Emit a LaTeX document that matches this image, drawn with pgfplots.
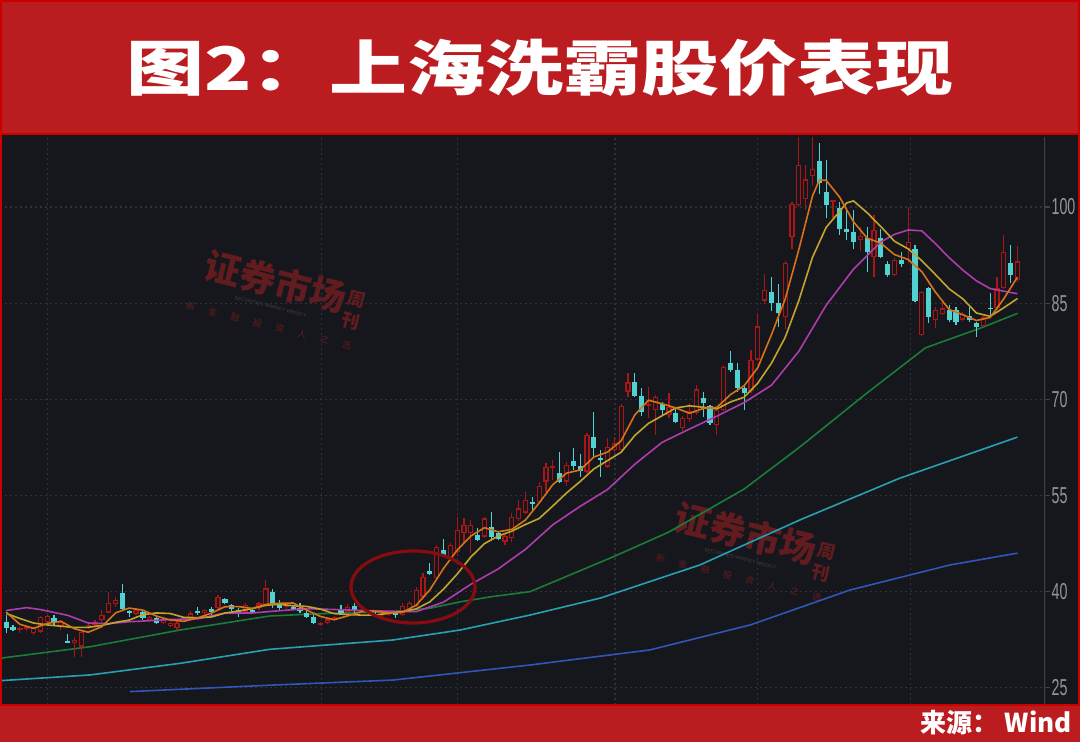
\documentclass[border=0pt]{standalone}
\usepackage{pgfplots}
\usepackage{pgfplotstable}
\usepackage{graphicx}
\usepackage{fontspec}
\pgfplotsset{compat=1.18}
\setmainfont{Liberation Sans}
\newfontfamily\cjk{Noto Sans CJK SC}
\pgfdeclarelayer{bg}
\pgfsetlayers{bg,main}

\definecolor{bgc}{RGB}{21,23,28}
\definecolor{upc}{RGB}{170,22,22}
\definecolor{dnc}{RGB}{80,210,210}
\definecolor{maA}{RGB}{215,115,25}
\definecolor{maB}{RGB}{195,165,45}
\definecolor{maC}{RGB}{175,60,175}
\definecolor{maD}{RGB}{25,125,55}
\definecolor{maE}{RGB}{40,160,180}
\definecolor{maF}{RGB}{50,85,185}
\definecolor{gridc}{RGB}{46,49,56}
\definecolor{axc}{RGB}{62,64,70}
\definecolor{tickc}{RGB}{150,150,150}
\definecolor{banner}{RGB}{187,28,32}
\definecolor{bord}{RGB}{205,0,0}
\definecolor{wm}{RGB}{98,28,32}
\definecolor{wmg}{RGB}{70,60,62}
\definecolor{ellc}{RGB}{135,12,16}

\newcommand{\wmark}{%
  \makebox[0pt][l]{\hspace*{4.5pt}{\cjk\bfseries\fontsize{18}{18}\selectfont\color{wm}证券市场}\hspace{1pt}\raisebox{-6.4pt}{\cjk\bfseries\fontsize{9}{9.5}\selectfont\color{wm}\shortstack{周\\刊}}}%
  \makebox[0pt][l]{\raisebox{-6.6pt}{\hspace*{22.5pt}\fontsize{2.5}{3}\selectfont\color{wmg}SECURITIES MARKET WEEKLY}}%
  \raisebox{-16.9pt}{\cjk\fontsize{4.5}{5}\selectfont\color{wm}新\hspace{7pt}金\hspace{7pt}融\hspace{7pt}投\hspace{7pt}资\hspace{7pt}人\hspace{7pt}之\hspace{7pt}选}}

% up candles (close >= open)
\pgfplotstableread{
i o h l c
2 34.0 34.5 33.6 34.3
3 34.1 34.6 33.9 34.4
4 33.5 34.5 33.3 34.3
5 33.75 36.2 33.6 36.0
6 35.3 36.4 35.1 36.2
8 34.53 35.6 34.0 35.3
10 31.93 32.97 29.85 32.45
11 31.41 34.01 29.85 33.75
12 34.27 34.9 34.1 34.8
13 34.79 35.5 34.5 35.3
14 35.57 37.13 35.05 36.35
15 36.71 39.89 36.61 38.27
16 38.07 39.21 37.65 38.69
19 36.5 37.4 36.3 37.2
21 35.57 36.2 35.4 36.09
23 35.05 35.7 34.9 35.57
24 34.64 35.3 34.5 35.15
25 34.27 35.4 34.0 35.15
26 35.3 35.95 35.2 35.83
27 35.67 36.9 35.4 36.61
29 36.61 37.3 36.4 37.13
31 37.39 39.47 37.13 39.21
35 36.87 38.27 36.61 37.91
37 37.39 38.4 37.2 38.17
38 37.91 41.81 37.65 40.51
41 37.6 38.2 37.3 37.8
46 34.84 35.3 34.7 35.15
47 35.15 35.9 35.0 35.67
48 35.7 36.2 35.5 36.0
50 36.87 38.0 36.7 37.65
52 36.9 37.4 36.6 37.1
55 36.3 36.8 36.1 36.6
56 36.4 36.9 36.2 36.7
58 36.35 38.17 36.2 37.75
59 36.87 38.5 36.7 38.27
60 37.75 40.66 37.6 40.25
61 39.21 42.95 38.8 42.33
63 42.07 47.27 41.9 47.01
65 45.19 47.53 44.7 47.27
66 46.2 51.69 45.5 49.61
67 49.09 51.43 47.53 50.39
68 49.09 51.17 45.97 50.39
70 48.57 51.7 48.4 51.43
73 47.79 48.9 47.27 48.67
74 48.31 52.2 47.79 51.69
75 51.27 54.29 51.0 52.99
76 52.31 55.59 52.1 54.29
78 53.9 57.15 53.6 56.47
79 57.15 60.01 55.59 59.49
80 59.3 60.6 57.4 59.5
82 57.15 60.2 56.4 59.8
85 58.71 64.8 58.5 64.43
88 59.49 63.91 59.23 62.61
89 62.09 64.17 61.8 63.13
90 62.09 69.2 61.9 68.95
91 71.19 74.05 70.3 72.65
94 68.95 71.9 67.1 69.1
95 68.33 70.6 64.4 70.41
97 67.55 71.0 67.1 68.85
99 65.55 67.4 65.0 67.15
100 66.9 69.37 66.5 68.2
101 67.81 72.3 67.6 71.55
104 65.99 68.6 64.5 68.3
105 68.33 75.3 68.1 75.09
109 71.3 77.69 71.0 76.1
110 76.2 83.45 76.0 81.38
111 85.4 89.6 84.9 87.05
114 82.78 91.6 81.0 91.31
115 95.27 100.8 93.4 100.5
116 100.31 110.9 100.0 106.55
117 101.19 106.55 99.6 104.31
118 104.8 110.9 103.3 105.9
121 100.8 101.1 98.23 101.0
125 94.85 96.93 93.1 95.47
127 92.15 98.75 89.13 96.45
130 89.39 92.0 89.2 91.73
132 93.4 100.0 91.2 94.59
134 80.03 86.9 79.8 86.74
136 82.37 84.45 81.1 83.93
137 83.31 85.5 83.1 84.19
140 82.42 83.6 82.2 83.36
143 81.45 83.0 81.3 82.8
145 84.19 89.0 84.0 87.31
146 87.4 95.63 87.2 93.03
148 88.61 93.9 88.3 91.5
}\upt

% down candles (close < open)
\pgfplotstableread{
i o h l c
0 35.3 36.4 33.5 34.3
1 34.5 34.8 33.8 34.0
7 35.83 36.35 34.8 35.05
9 32.3 33.39 31.93 32.0
17 39.73 41.13 37.13 37.23
18 36.97 37.13 36.1 36.61
20 36.87 37.1 35.6 35.83
22 35.83 36.35 34.95 35.15
28 37.0 37.6 36.35 36.7
30 37.23 37.65 36.35 36.87
32 38.79 39.0 38.0 38.27
33 37.91 38.1 37.0 37.23
34 37.13 37.39 36.09 36.71
36 37.13 37.3 36.5 36.71
39 40.0 40.4 37.4 38.1
40 38.0 38.7 37.1 37.4
42 37.6 37.8 37.1 37.3
43 37.39 38.2 36.6 36.9
44 36.6 36.9 35.9 36.1
45 36.09 36.4 35.0 35.15
49 37.13 37.9 36.35 36.61
51 37.75 38.17 36.6 36.97
53 37.0 37.2 36.2 36.7
54 36.5 36.8 36.1 36.3
57 36.6 36.8 35.9 36.4
62 43.21 44.4 42.59 42.74
64 46.49 48.15 45.45 45.71
69 48.83 49.9 47.9 48.05
71 50.13 52.47 48.05 48.57
72 49.2 49.5 48.0 48.2
77 53.9 54.8 52.7 53.7
81 58.55 61.83 56.89 57.15
83 60.37 62.35 59.0 59.6
84 59.59 61.5 57.93 58.8
86 64.17 68.07 61.0 62.35
87 60.9 62.1 57.93 60.6
92 72.75 74.05 70.41 70.5
93 70.45 71.71 67.4 68.07
96 69.3 69.5 67.6 68.4
98 67.81 68.6 66.25 66.51
102 70.15 71.19 67.29 69.37
103 68.9 69.1 66.0 66.3
106 75.71 77.5 74.31 74.57
107 74.57 75.71 71.19 71.71
108 71.71 72.0 68.33 70.93
112 86.7 89.05 83.7 84.97
113 85.0 88.0 81.33 83.41
119 107.23 109.93 102.0 103.79
120 102.26 107.33 98.23 100.26
122 99.79 100.83 95.63 96.51
123 96.51 99.53 94.85 96.15
124 96.1 99.53 93.4 94.55
126 95.11 96.8 89.91 93.03
128 95.11 96.5 92.0 92.25
129 91.15 91.5 89.1 89.39
131 91.68 93.0 90.7 91.11
133 93.39 94.07 85.2 85.39
135 87.31 87.5 81.85 82.89
138 83.93 84.71 82.11 82.37
139 83.93 84.4 81.6 82.11
141 82.95 84.45 82.1 82.37
142 81.95 82.1 79.77 81.23
144 84.29 86.6 82.89 84.05
147 91.21 94.07 88.2 89.39
}\dnt

\pgfplotstableread{
i v
0 36.8
2 34.9
4 34.26
6 35.04
8 35.37
10 34.2
12 33.66
14 34.53
16 36.68
18 37.43
20 37.11
22 36.18
24 35.56
26 35.37
28 35.89
30 36.63
32 37.64
34 37.66
36 37.37
38 38.0
40 38.18
42 38.22
44 37.1
46 36.12
48 35.61
50 36.22
52 36.87
54 36.94
56 36.68
58 36.75
60 37.87
62 40.27
64 43.61
66 46.47
68 48.67
70 49.97
72 49.33
74 49.71
76 51.17
78 53.83
80 56.69
82 58.48
84 58.97
86 61.0
88 61.76
90 63.53
92 67.57
94 69.85
96 69.3
98 68.65
100 67.82
102 68.56
104 68.74
106 70.73
108 72.12
110 74.94
112 80.09
114 85.62
116 93.35
118 101.71
119 104.21
120 104.16
122 101.49
124 97.69
126 95.14
128 94.35
130 92.57
132 91.81
134 89.91
136 86.71
138 84.02
140 83.19
142 82.29
144 82.76
146 85.68
148 89.06
}\mafive

\pgfplotstableread{
i v
0 36.6
2 35.8
4 35.1
6 34.8
8 34.6
10 34.4
12 34.43
14 34.72
16 35.2
18 35.55
20 36.4
22 36.67
24 36.58
26 35.98
28 35.93
30 36.03
32 36.65
34 36.97
36 37.34
38 37.87
40 38.02
42 37.78
44 37.69
46 37.26
48 36.56
50 36.43
52 36.33
54 36.33
56 36.63
58 36.88
60 37.3
62 38.4
64 40.38
66 42.73
68 45.4
70 47.49
72 48.66
74 49.43
76 50.47
78 51.41
80 53.36
82 55.38
84 57.18
86 59.13
88 60.43
90 61.74
92 64.36
94 66.24
96 67.44
98 68.66
100 68.98
102 68.76
104 68.5
106 69.59
108 70.32
110 72.53
112 75.64
114 79.65
116 85.39
118 92.15
120 96.81
122 99.35
123 100.63
124 100.95
126 99.1
128 96.95
130 94.65
132 93.47
134 91.62
136 89.45
138 87.23
140 85.67
142 83.46
144 82.93
146 84.28
148 85.72
}\maten

\pgfplotstableread{
i v
0 37.05
3 37.5
5 37.2
9 36.3
12 35.1
15 35.0
18 35.3
20 35.4
24 35.65
28 35.74
32 36.66
36 36.66
40 37.02
44 37.33
48 37.21
52 37.06
56 36.94
60 36.87
64 38.35
68 41.14
72 43.53
76 46.6
80 50.43
84 53.3
88 55.92
92 59.87
96 63.29
100 65.36
104 67.37
108 69.49
112 72.2
116 77.49
120 84.67
124 90.3
128 94.55
130 95.73
132 96.41
134 96.28
136 94.27
138 92.09
140 90.16
142 88.47
144 87.27
146 86.86
148 86.47
}\matwenty

\pgfplotstableread{
i v
-0.9 29.6
12.3 31.4
25.4 34.0
38.6 36.2
47 36.6
57 36.9
62 37.4
66.4 38.4
71 39.2
76.7 40.0
89 45.5
97 49.3
108 56.0
116.2 62.6
126 71.0
134.5 78.0
137.7 79.25
142.5 81.07
148 83.4
}\masixty

\pgfplotstableread{
i v
-0.9 26.1
12.3 27.0
25.4 28.8
38.6 31.0
56.6 32.45
66.4 34.0
76.7 36.35
87 39.0
101.5 44.15
116.2 51.2
130.8 57.7
148 64.1
}\maonetwenty

\pgfplotstableread{
i v
18.1 24.4
38.6 25.4
56.6 26.2
76.7 28.55
94.2 30.9
108.9 34.8
123.5 40.25
138.1 44.15
148 46.0
}\matwofifty

\begin{document}
\begin{tikzpicture}[x=1pt,y=1pt]
\begin{axis}[
  scale only axis, width=522.5pt, height=284pt,
  xmin=-0.907, xmax=152.03, ymin=22.31, ymax=110.92,
  axis line style={draw=none},
  xtick={6.1,46.2,66.0,89.1,109.9,132.3}, xticklabels={},
  major x tick style={draw=none},
  ytick={25,40,55,70,85,100}, ytick pos=right, yticklabel pos=right,
  tick align=outside, major tick length=2.5pt,
  major y tick style={draw=axc, line width=0.6pt},
  xmajorgrids, ymajorgrids,
  grid style={gridc, line width=0.6pt, dash pattern=on 1pt off 1.5pt},
  /pgf/number format/assume math mode=true,
  yticklabel={\scalebox{0.62}[1]{\pgfmathprintnumber{\tick}}},
  yticklabel style={font=\fontsize{11.5}{11.5}\selectfont, text=tickc, anchor=west, inner sep=0.6pt},
  clip=true,
]
\coordinate (LL) at (rel axis cs:0,0);
\draw[axc, line width=0.8pt] (rel axis cs:1,0) -- (rel axis cs:1,1);

% long moving averages
\addplot[maF, line width=0.8pt, no markers] table[x=i, y=v] {\matwofifty};
\addplot[maE, line width=0.8pt, no markers] table[x=i, y=v] {\maonetwenty};
\addplot[maD, line width=0.8pt, no markers] table[x=i, y=v] {\masixty};

% wicks
\addplot[upc, line width=0.6pt, no markers, quiver={u=0, v=\thisrow{h}-\thisrow{l}}] table[x=i, y=l] {\upt};
\addplot[dnc, line width=0.6pt, no markers, quiver={u=0, v=\thisrow{h}-\thisrow{l}}] table[x=i, y=l] {\dnt};
% bodies
\addplot[upc, line width=2.65pt, no markers, quiver={u=0, v={max(\thisrow{c}-\thisrow{o},0.25)}}] table[x=i, y=o] {\upt};
\addplot[bgc, line width=1.45pt, no markers, quiver={u=0, v={max(\thisrow{c}-\thisrow{o}-0.38,0)}}] table[x=i, y expr=\thisrow{o}+0.19] {\upt};
\addplot[dnc, line width=2.65pt, no markers, quiver={u=0, v={max(\thisrow{o}-\thisrow{c},0.25)}}] table[x=i, y=c] {\dnt};

% short moving averages
\addplot[maC, line width=0.8pt, no markers] table[x=i, y=v] {\matwenty};
\addplot[maB, line width=0.8pt, no markers] table[x=i, y=v] {\maten};
\addplot[maA, line width=0.8pt, no markers] table[x=i, y=v] {\mafive};
\end{axis}

\begin{scope}[shift={(LL)}, yshift=-18.5pt]
% background and watermarks behind the chart
\begin{pgfonlayer}{bg}
\fill[bgc] (0,0) rectangle (540,371);
\node[rotate=-14, anchor=base west, inner sep=0] at (96.6,233.2) {\wmark};
\node[rotate=-14, anchor=base west, inner sep=0] at (331.6,107.2) {\wmark};
\end{pgfonlayer}

% annotation ellipse
\draw[ellc, line width=1.6pt] (206.5,77.5) ellipse [x radius=31, y radius=18];

% title banner
\fill[banner] (0,303.5) rectangle (540,371);
\draw[bord, line width=1.2pt] (0.6,304.1) rectangle (539.4,370.4);
\node[text=white, inner sep=0] at (270,337) {\scalebox{1.3}[1]{\cjk\bfseries\fontsize{30}{30}\selectfont 图2：上海洗霸股价表现}};

% footer
\fill[banner] (0,0) rectangle (540,18.5);
\draw[bord, line width=1pt] (0,18.5) -- (540,18.5);
\node[text=white, anchor=east, inner sep=0] at (536,9.5) {\cjk\bfseries\fontsize{13}{13}\selectfont 来源：\ Wind};

% side strips
\fill[bord] (0,18.5) rectangle (1.2,303.5);
\fill[bord] (538.8,18.5) rectangle (540,303.5);

\pgfresetboundingbox
\useasboundingbox (0,0) rectangle (540,371);
\end{scope}
\end{tikzpicture}
\end{document}
